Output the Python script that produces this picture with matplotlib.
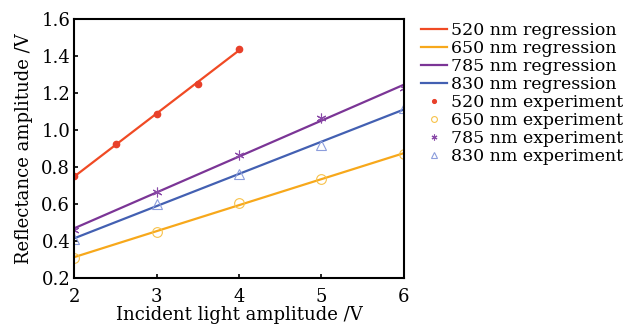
import matplotlib
matplotlib.use("Agg")
import matplotlib.pyplot as plt
import numpy as np

plt.rcParams['font.family'] = ['DejaVu Serif']
plt.rcParams['mathtext.fontset'] = 'dejavuserif'

# experiment data
x520 = [2, 2.5, 3, 3.5, 4]
y520 = [0.75, 0.925, 1.085, 1.25, 1.44]
x_all = [2, 3, 4, 5, 6]
y650 = [0.31, 0.45, 0.605, 0.735, 0.87]
y785 = [0.46, 0.665, 0.865, 1.065, 1.23]
y830 = [0.41, 0.60, 0.765, 0.92, 1.12]

labels = ['520 nm', '650 nm', '785 nm', '830 nm']
line_cols = ['#f04a24', '#f7a81b', '#7b3596', '#4360b2']
mark_cols = ['#e8402a', '#f7c24a', '#8a4aa8', '#8c9ddc']

fig = plt.figure(figsize=(6.25, 3.24), dpi=100)
ax = fig.add_axes([0.119, 0.142, 0.527, 0.799])

data = [(x520, y520), (x_all, y650), (x_all, y785), (x_all, y830)]

# regression lines
for (xs, ys), lab, c in zip(data, labels, line_cols):
    k, b = np.polyfit(xs, ys, 1)
    xx = np.array([xs[0], xs[-1]])
    ax.plot(xx, k * xx + b, color=c, lw=1.6, label=lab + ' regression')

# experiment points
ax.plot(x520, y520, 'o', color=mark_cols[0], ms=4.5, label='520 nm experiment')
ax.plot(x_all, y650, 'o', mfc='none', mec=mark_cols[1], ms=7, mew=0.8,
        label='650 nm experiment')
ax.plot(x_all, y785, marker=(6, 2, 0), ls='none', color=mark_cols[2], ms=7,
        mew=0.8, label='785 nm experiment')
ax.plot(x_all, y830, '^', mfc='none', mec=mark_cols[3], ms=7, mew=0.8,
        label='830 nm experiment')

ax.set_xlim(2, 6)
ax.set_ylim(0.2, 1.6)
ax.set_xticks([2, 3, 4, 5, 6])
ax.set_yticks(np.arange(0.2, 1.61, 0.2))
ax.set_yticklabels(['%.1f' % v for v in np.arange(0.2, 1.61, 0.2)])
ax.tick_params(direction='in', labelsize=13, length=3, width=1.2, pad=3)
ax.tick_params(axis='x', pad=7)
for s in ax.spines.values():
    s.set_linewidth(1.5)
ax.set_xlabel('Incident light amplitude /V', fontsize=13, labelpad=0)
ax.set_ylabel('Reflectance amplitude /V', fontsize=13, labelpad=6)

fig.legend(loc='upper left', bbox_to_anchor=(0.66, 0.96), frameon=False,
           fontsize=12.5, handlelength=1.5, handletextpad=0.2,
           labelspacing=0.06, borderpad=0, markerscale=0.6)

fig.savefig('out.png', dpi=100)
